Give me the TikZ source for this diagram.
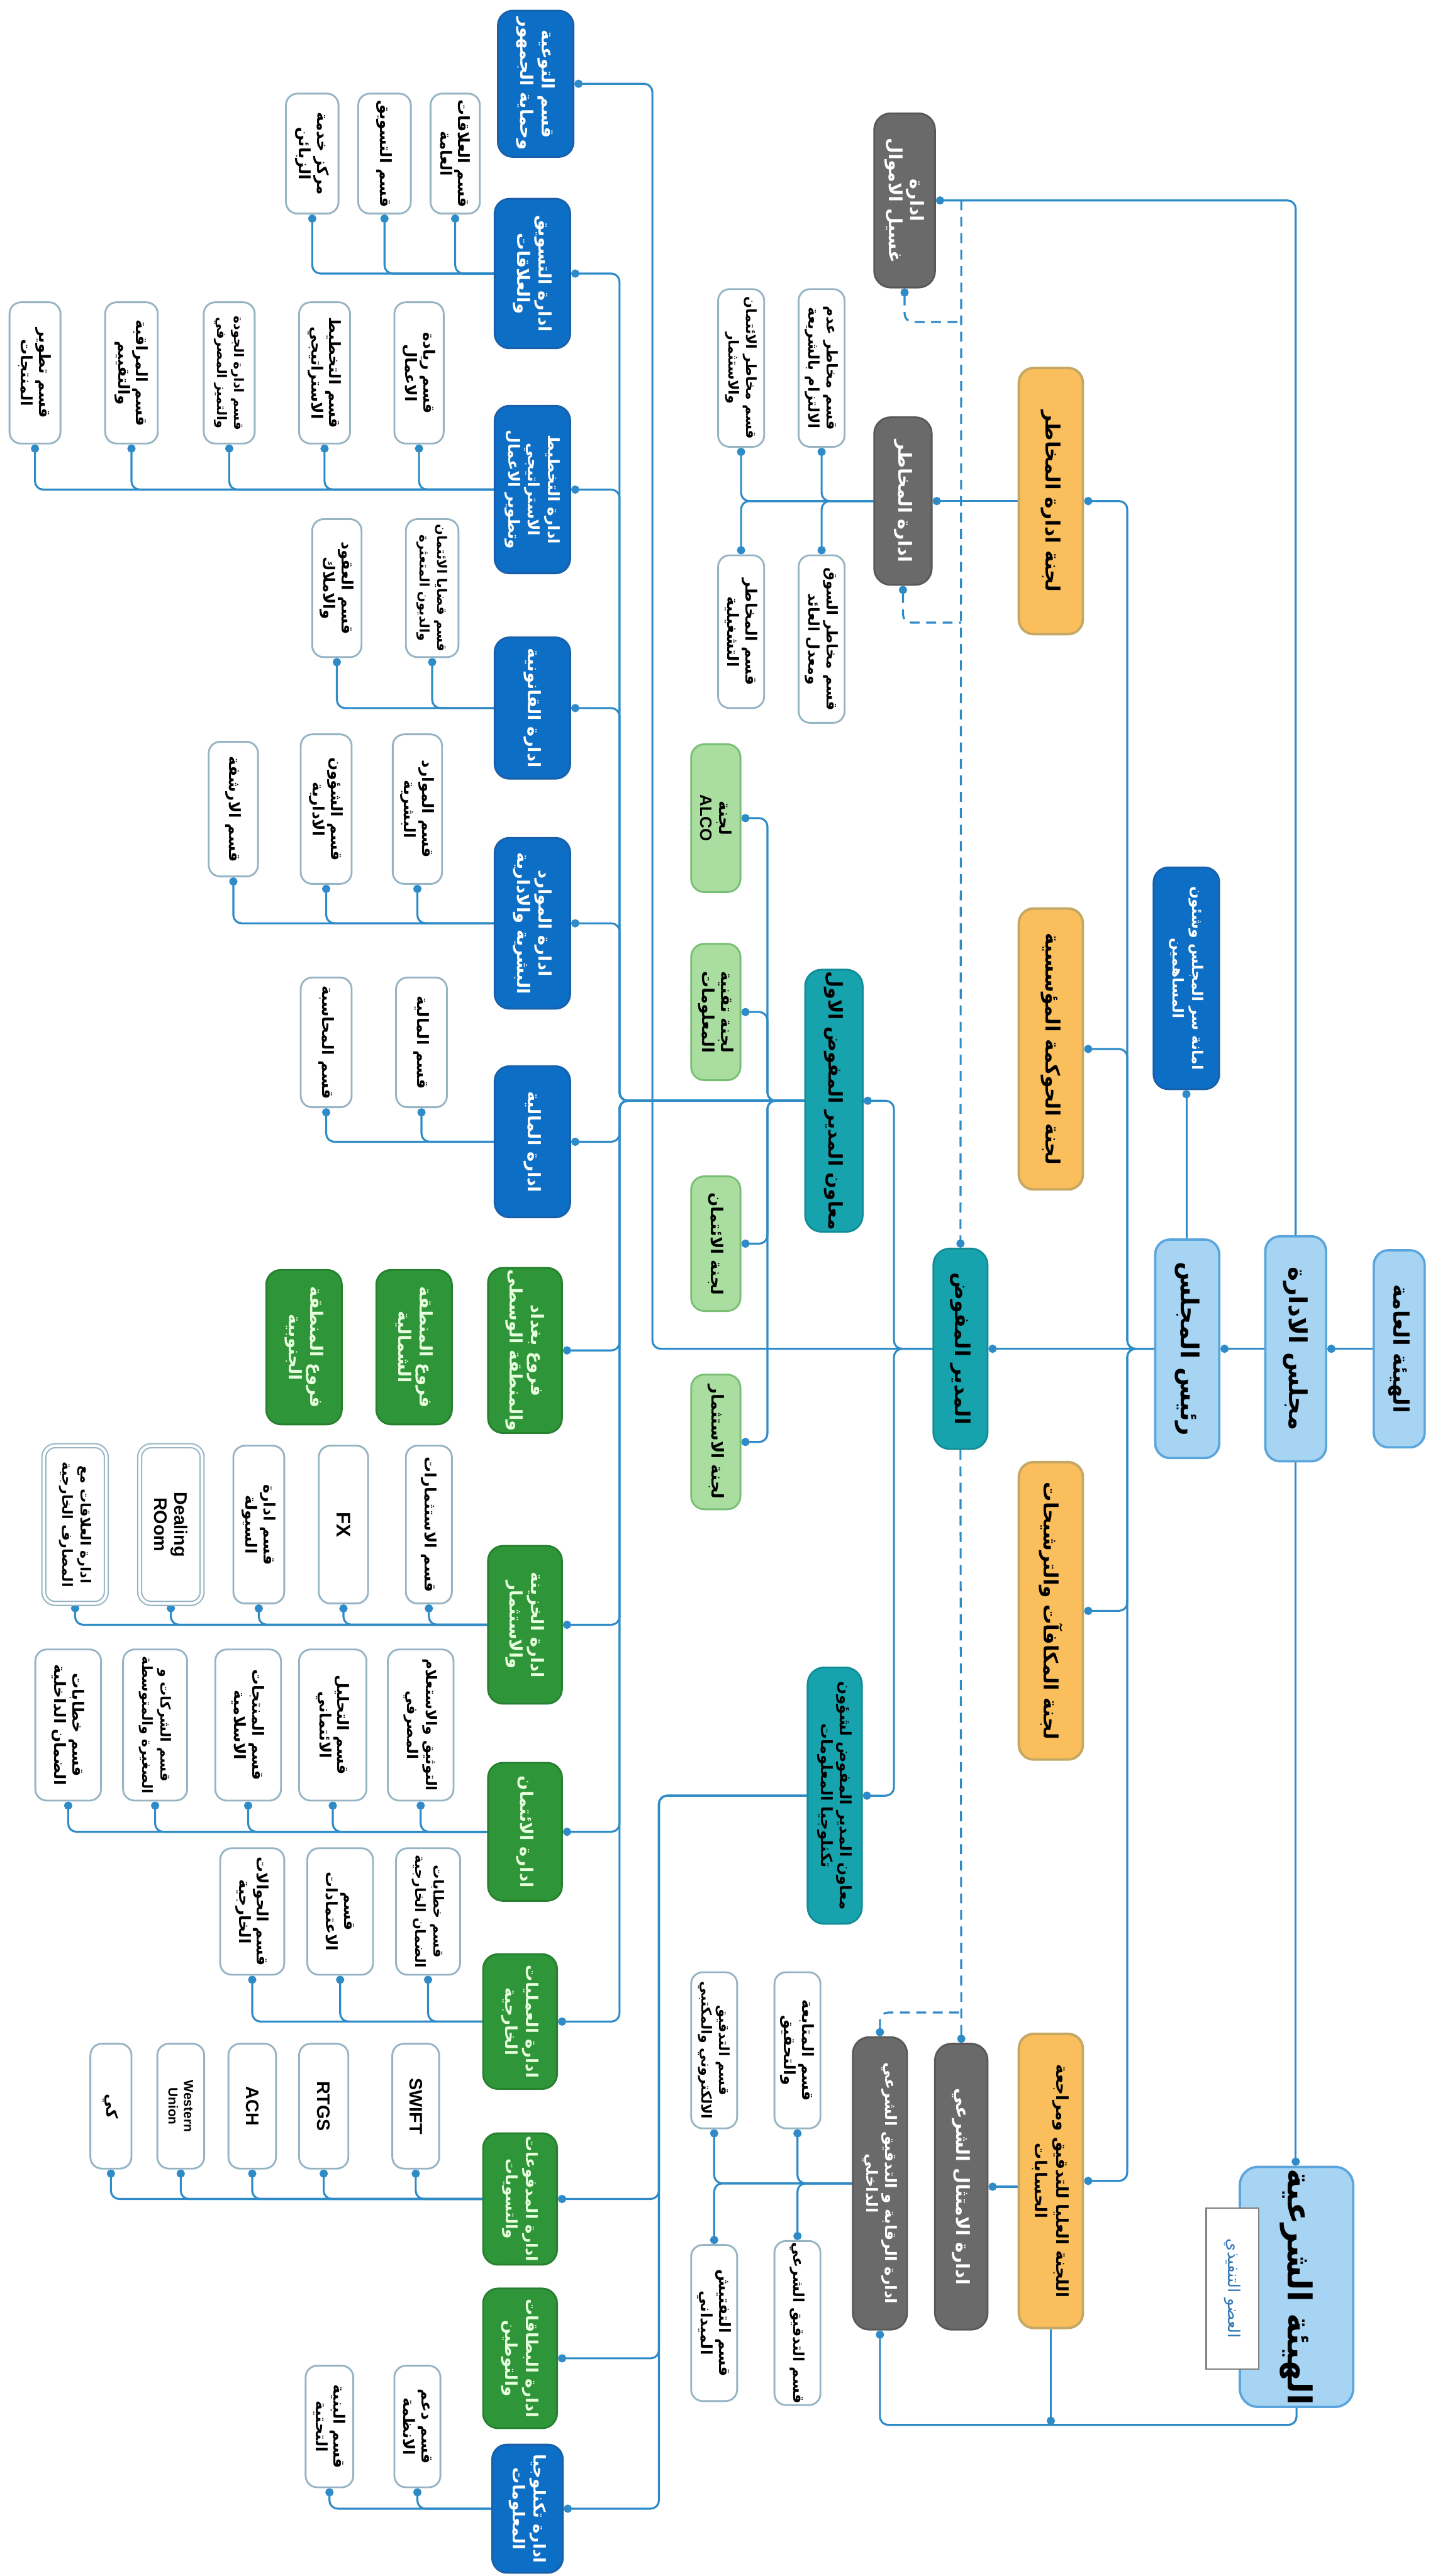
\documentclass[tikz,border=0pt]{standalone}
\usepackage{fontspec}
\setmainfont{Liberation Sans}
\newfontfamily\arabicfont[Script=Arabic]{DejaVu Sans}
\TeXXeTstate=1
\usetikzlibrary{arrows.meta,calc}
\newcommand{\artx}[1]{{\arabicfont\bfseries\beginR #1\endR}}
\newcommand{\artn}[1]{{\arabicfont\beginR #1\endR}}
\newcommand{\latx}[1]{{\bfseries #1}}
\newcommand{\fsz}[2]{\fontsize{#1}{#2}\selectfont}
\definecolor{lineblue}{RGB}{46,139,200}
\definecolor{lbfill}{RGB}{166,212,242}
\definecolor{lbbord}{RGB}{90,165,220}
\definecolor{dbfill}{RGB}{12,110,196}
\definecolor{dbbord}{RGB}{25,95,170}
\definecolor{orfill}{RGB}{250,190,92}
\definecolor{orbord}{RGB}{196,168,100}
\definecolor{gyfill}{RGB}{106,106,106}
\definecolor{gybord}{RGB}{88,88,88}
\definecolor{tlfill}{RGB}{22,163,173}
\definecolor{tlbord}{RGB}{18,140,150}
\definecolor{lgfill}{RGB}{170,221,160}
\definecolor{lgbord}{RGB}{120,190,115}
\definecolor{grfill}{RGB}{46,150,56}
\definecolor{grbord}{RGB}{38,128,48}
\definecolor{grtext}{RGB}{232,255,222}
\definecolor{wbord}{RGB}{150,180,196}
\definecolor{execblue}{RGB}{46,117,182}
\pgfdeclarelayer{bg}
\pgfsetlayers{bg,main}
\tikzset{
  sz/.style 2 args={minimum width=#1, minimum height=#2},
  base/.style={rotate=-90, align=center, inner sep=1pt, line width=1.1pt},
  wbox/.style={base, rounded corners=7pt, draw=wbord, fill=white, text=black, font=\fsz{9.5}{11}},
  dblbox/.style={wbox, double=white, double distance=1.6pt, line width=0.8pt},
  dept/.style={base, rounded corners=9pt, draw=dbbord, fill=dbfill, text=white, font=\fsz{10.5}{13}},
  gdept/.style={base, rounded corners=9pt, draw=grbord, fill=grfill, text=grtext, font=\fsz{10.5}{13}},
  lbox/.style={base, rounded corners=9pt, draw=lbbord, fill=lbfill, text=black, line width=1.4pt},
  obox/.style={base, rounded corners=9pt, draw=orbord, fill=orfill, text=black, line width=1.5pt, font=\fsz{12}{14}},
  gybox/.style={base, rounded corners=10pt, draw=gybord, fill=gyfill, text=white, font=\fsz{11}{13}},
  tbox/.style={base, rounded corners=10pt, draw=tlbord, fill=tlfill, text=black, font=\fsz{11.5}{13}},
  lgbox/.style={base, rounded corners=8pt, draw=lgbord, fill=lgfill, text=black, font=\fsz{10}{11.5}},
  conn/.style={draw=lineblue, line width=1.2pt, rounded corners=5pt},
  dconn/.style={conn, dash pattern=on 6pt off 4pt},
  dot/.style={{Circle[length=5pt,width=5pt]}-},
  enddot/.style={-{Circle[length=5pt,width=5pt]}}
}
\begin{document}
\begin{tikzpicture}[x=1pt,y=-1pt]
\begin{pgfonlayer}{bg}
\fill[white] (0,0) rectangle (875,1568);
\end{pgfonlayer}
\useasboundingbox (0,0) rectangle (875,1568);

% ---------- top level ----------
\node[lbox, sz={120}{31}, font=\fsz{13}{15}] (ga) at (851.5,821) {\artx{الهيئة العامة}};
\node[lbox, sz={137}{37}, font=\fsz{15}{17}] (board) at (788.5,821) {\artx{مجلس الادارة}};
\node[lbox, sz={133}{39}, font=\fsz{15}{17}] (chair) at (722.5,821) {\artx{رئيس المجلس}};
\node[dept, sz={135}{40}, font=\fsz{9}{11.5}] (sec) at (722,595.5) {\artx{امانة سر المجلس وشئون}\\\artx{المساهمين}};
\node[lbox, sz={136}{69}, font=\fsz{20}{22}, rounded corners=11pt] (shariah) at (789,1392) {\artx{الهيئة الشرعية}};
\node[rotate=-90, draw=gray, fill=white, line width=1pt, sz={98}{32}, font=\fsz{10}{11}, text=execblue] (execm) at (750,1393) {\artn{العضو التنفيذي}};

% ---------- board committees ----------
\node[obox, sz={162}{39}] (riskc) at (639.5,305) {\artx{لجنة ادارة المخاطر}};
\node[obox, sz={171}{39}] (govc) at (639.5,638.5) {\artx{لجنة الحوكمة المؤسسية}};
\node[obox, sz={181}{39}] (remc) at (639.5,980.5) {\artx{لجنة المكافآت والترشيحات}};
\node[obox, sz={179}{39}, font=\fsz{10}{13}] (auditc) at (639.5,1327.5) {\artx{اللجنة العليا للتدقيق ومراجعة}\\\artx{الحسابات}};

% ---------- gray departments ----------
\node[gybox, sz={106}{37}] (aml) at (550.5,122) {\artx{ادارة}\\\artx{غسيل الاموال}};
\node[gybox, sz={102}{35}] (riskm) at (549.5,305) {\artx{ادارة المخاطر}};
\node[gybox, sz={174}{32}] (shcomp) at (585,1331) {\artx{ادارة الامتثال الشرعي}};
\node[gybox, sz={178}{33}, font=\fsz{9.5}{11.5}] (intaud) at (535.5,1329) {\artx{ادارة الرقابة و التدقيق الشرعي}\\\artx{الداخلي}};

% ---------- executive ----------
\node[tbox, sz={122}{33}, font=\fsz{12.5}{14}] (ceo) at (584.5,821) {\artx{المدير المفوض}};
\node[tbox, sz={147}{35}] (dep1) at (507.5,670) {\artx{معاون المدير المفوض الاول}};
\node[tbox, sz={156}{33}, font=\fsz{9.5}{11.5}] (dep2) at (508,1093) {\artx{معاون المدير المفوض لشؤون}\\\artx{تكنلوجيا المعلومات}};

% ---------- executive committees ----------
\node[lgbox, sz={90}{30}] (alco) at (435.6,498) {\artx{لجنة}\\\latx{ALCO}};
\node[lgbox, sz={83}{30}] (itc) at (435.6,616) {\artx{لجنة تقنية}\\\artx{المعلومات}};
\node[lgbox, sz={82}{30}] (crc) at (435.6,757) {\artx{لجنة الائتمان}};
\node[lgbox, sz={82}{30}] (invc) at (435.6,877.7) {\artx{لجنة الاستثمار}};

% ---------- risk sections ----------
\node[wbox, sz={96}{28}, font=\fsz{9}{11}] (rk1) at (500,224) {\artx{قسم مخاطر عدم}\\\artx{الالتزام بالشريعة}};
\node[wbox, sz={96}{28}, font=\fsz{8.5}{11}] (rk2) at (451,224) {\artx{قسم مخاطر الائتمان}\\\artx{والاستثمار}};
\node[wbox, sz={102}{28}, font=\fsz{9}{11}] (rk3) at (500,389) {\artx{قسم مخاطر السوق}\\\artx{ومعدل العائد}};
\node[wbox, sz={93}{28}] (rk4) at (451,384.5) {\artx{قسم المخاطر}\\\artx{التشغيلية}};

% ---------- audit sections ----------
\node[wbox, sz={95}{28}] (a1) at (485.3,1248) {\artx{قسم المتابعة}\\\artx{والتحقيق}};
\node[wbox, sz={95}{28}, font=\fsz{8.5}{11}] (a2) at (434.6,1248) {\artx{قسم التدقيق}\\\artx{الالكتروني والمكتبي}};
\node[wbox, sz={95}{28}, font=\fsz{9}{11}] (a3) at (485.3,1414) {\artx{قسم التدقيق الشرعي}};
\node[wbox, sz={95}{28}] (a4) at (434.6,1414) {\artx{قسم التفتيش}\\\artx{الميداني}};

% ---------- blue departments ----------
\node[dept, sz={89}{46}] (aware) at (326,51) {\artx{قسم التوعية}\\\artx{وحماية الجمهور}};
\node[dept, sz={91}{46}] (mkt) at (324,166.5) {\artx{ادارة التسويق}\\\artx{والعلاقات}};
\node[dept, sz={102}{46}, font=\fsz{9.5}{12}] (strat) at (324,298) {\artx{ادارة التخطيط}\\\artx{الاستراتيجي}\\\artx{وتطوير الاعمال}};
\node[dept, sz={86}{46}] (legal) at (324,431) {\artx{ادارة القانونية}};
\node[dept, sz={104}{46}] (hr) at (324,562) {\artx{ادارة الموارد}\\\artx{البشرية والادارية}};
\node[dept, sz={92}{46}] (fin) at (324,695) {\artx{ادارة المالية}};
\node[dept, sz={78}{43}, font=\fsz{10}{12.5}] (itd) at (321,1527) {\artx{ادارة تكنلوجيا}\\\artx{المعلومات}};

% ---------- green departments ----------
\node[gdept, sz={99}{45}] (bgd) at (319.5,822) {\artx{فروع بغداد}\\\artx{والمنطقة الوسطى}};
\node[gdept, sz={94}{46}] (north) at (252,820) {\artx{فروع المنطقة}\\\artx{الشمالية}};
\node[gdept, sz={94}{46}] (south) at (185,820) {\artx{فروع المنطقة}\\\artx{الجنوبية}};
\node[gdept, sz={96}{45}] (trs) at (319.5,989) {\artx{ادارة الخزينة}\\\artx{والاستثمار}};
\node[gdept, sz={84}{45}] (crd) at (319.5,1115) {\artx{ادارة الائتمان}};
\node[gdept, sz={82}{45}, font=\fsz{10}{12.5}] (trd) at (316.5,1230.5) {\artx{ادارة العمليات}\\\artx{الخارجية}};
\node[gdept, sz={80}{45}, font=\fsz{9.5}{12.5}] (pay) at (316.5,1338.5) {\artx{ادارة المدفوعات}\\\artx{والتسويات}};
\node[gdept, sz={85}{45}, font=\fsz{10}{12.5}] (card) at (316.5,1435.5) {\artx{ادارة البطاقات}\\\artx{والتوطين}};

% ---------- marketing sections ----------
\node[wbox, sz={73}{30}] (m1) at (277,93.5) {\artx{قسم العلاقات}\\\artx{العامة}};
\node[wbox, sz={73}{32}] (m2) at (234,93.5) {\artx{قسم التسويق}};
\node[wbox, sz={73}{32}] (m3) at (190,93.5) {\artx{مركز خدمة}\\\artx{الزبائن}};

% ---------- strategy sections ----------
\node[wbox, sz={86}{30}] (s1) at (255,227) {\artx{قسم ريادة}\\\artx{الاعمال}};
\node[wbox, sz={86}{31}] (s2) at (197.5,227) {\artx{قسم التخطيط}\\\artx{الاستراتيجي}};
\node[wbox, sz={86}{31}, font=\fsz{8}{10.5}] (s3) at (139.5,227) {\artx{قسم ادارة الجودة}\\\artx{والتميز المصرفي}};
\node[wbox, sz={86}{32}] (s4) at (80,227) {\artx{قسم المراقبة}\\\artx{والتقييم}};
\node[wbox, sz={86}{31}] (s5) at (21.3,227) {\artx{قسم تطوير}\\\artx{المنتجات}};

% ---------- legal sections ----------
\node[wbox, sz={84}{32}, font=\fsz{8}{10.5}] (l1) at (263,358) {\artx{قسم قضايا الائتمان}\\\artx{والديون المتعثرة}};
\node[wbox, sz={84}{30}] (l2) at (205,358) {\artx{قسم العقود}\\\artx{والاملاك}};

% ---------- HR sections ----------
\node[wbox, sz={91}{30}] (h1) at (254,492.5) {\artx{قسم الموارد}\\\artx{البشرية}};
\node[wbox, sz={91}{31}] (h2) at (198.5,492.5) {\artx{قسم الشؤون}\\\artx{الادارية}};
\node[wbox, sz={82}{30}] (h3) at (142,492.5) {\artx{قسم الارشفة}};

% ---------- finance sections ----------
\node[wbox, sz={79}{31}] (f1) at (256.5,634.5) {\artx{قسم المالية}};
\node[wbox, sz={79}{31}] (f2) at (198.5,634.5) {\artx{قسم المحاسبة}};

% ---------- treasury sections ----------
\node[wbox, sz={96}{28}] (t1) at (261,928) {\artx{قسم الاستثمارات}};
\node[wbox, sz={96}{30}, font=\fsz{12}{13}] (t2) at (209,928) {\latx{FX}};
\node[wbox, sz={96}{31}] (t3) at (157.5,928) {\artx{قسم ادارة}\\\artx{السيولة}};
\node[dblbox, sz={96}{38}, font=\fsz{11}{12.5}] (t4) at (104,928) {\latx{Dealing}\\\latx{ROom}};
\node[dblbox, sz={96}{38}, font=\fsz{8.5}{11}] (t5) at (45.7,928) {\artx{ادارة العلاقات مع}\\\artx{المصارف الخارجية}};

% ---------- credit sections ----------
\node[wbox, sz={92}{40}, font=\fsz{9}{11.5}] (c1) at (256,1050) {\artx{التوثيق والاستعلام}\\\artx{المصرفي}};
\node[wbox, sz={92}{41}] (c2) at (202.5,1050) {\artx{قسم التحليل}\\\artx{الائتماني}};
\node[wbox, sz={92}{40}] (c3) at (151,1050) {\artx{قسم المنتجات}\\\artx{الاسلامية}};
\node[wbox, sz={92}{39}, font=\fsz{8.5}{11}] (c4) at (94.4,1050) {\artx{قسم الشركات و}\\\artx{الصغيرة والمتوسطة}};
\node[wbox, sz={92}{40}] (c5) at (41.5,1050) {\artx{قسم خطابات}\\\artx{الضمان الداخلية}};

% ---------- external operations sections ----------
\node[wbox, sz={77}{39}, font=\fsz{8.5}{11}] (d1) at (260.5,1163.5) {\artx{قسم خطابات}\\\artx{الضمان الخارجية}};
\node[wbox, sz={77}{40}] (d2) at (207,1163.5) {\artx{قسم}\\\artx{الاعتمادات}};
\node[wbox, sz={77}{39}] (d3) at (153.5,1163.5) {\artx{قسم الحوالات}\\\artx{الخارجية}};

% ---------- payment systems ----------
\node[wbox, sz={76}{28.5}, font=\fsz{11}{12}] (p1) at (253,1282) {\latx{SWIFT}};
\node[wbox, sz={76}{30}, font=\fsz{11}{12}] (p2) at (197,1282) {\latx{RTGS}};
\node[wbox, sz={76}{29}, font=\fsz{11}{12}] (p3) at (153.5,1282) {\latx{ACH}};
\node[wbox, sz={76}{28.5}, font=\fsz{8}{9.5}] (p4) at (110,1282) {\latx{Western}\\\latx{Union}};
\node[wbox, sz={76}{25}] (p5) at (67.5,1282) {\artx{كي}};

% ---------- IT sections ----------
\node[wbox, sz={74}{28}] (i1) at (254,1477) {\artx{قسم دعم}\\\artx{الانظمة}};
\node[wbox, sz={74}{29}] (i2) at (200.5,1477) {\artx{قسم البنية}\\\artx{التحتية}};

% ---------- junction coordinates ----------
\coordinate (cj) at (686,821);
\coordinate (cl) at (397,821);
\coordinate (c544) at (544,821);
\coordinate (c467) at (467,670);
\coordinate (c377) at (377,670);
\coordinate (c401) at (401,1093);
\coordinate (dtop) at (585,122);
\coordinate (dj1) at (585,196);
\coordinate (dj2) at (585,379);
\coordinate (dj3) at (585,1225);
\coordinate (bl) at (789,1476);

\begin{pgfonlayer}{bg}
% top level
\draw[conn,dot] (board.north) -- (board.north -| ga.south);
\draw[conn,dot] (chair.north) -- (chair.north -| board.south);
\draw[conn,dot] (sec.east) -- (sec.east |- chair.west);
\draw[conn,dot] (aml.north) -| (board.west);
\draw[conn,enddot] (board.east) -- (board.east |- shariah.west);
% board committees
\foreach \c in {riskc,govc,remc,auditc}
  \draw[conn,dot] (\c.north) -| (cj) -- (cj -| chair.south);
\draw[conn,dot] (ceo.north) -- (ceo.north -| chair.south);
\draw[conn,dot] (riskm.north) -- (riskm.north -| riskc.south);
\draw[conn,dot] (shcomp.north) -- (shcomp.north -| auditc.south);
\draw[conn,enddot] (auditc.east) -- (auditc.east |- bl);
\draw[conn,dot] (intaud.east) |- (bl) -- (shariah.east);
% dashed line
\draw[dconn,enddot] (dtop) -- (ceo.west);
\draw[dconn,enddot] (ceo.east) -- (shcomp.west);
\draw[dconn,dot] (aml.east) |- (dj1);
\draw[dconn,dot] (riskm.east) |- (dj2);
\draw[dconn,dot] (intaud.west) |- (dj3);
% risk sections
\draw[conn,dot] (rk1.east) |- (riskm.south);
\draw[conn,dot] (rk2.east) |- (riskm.south);
\draw[conn,dot] (rk3.west) |- (riskm.south);
\draw[conn,dot] (rk4.west) |- (riskm.south);
% audit sections
\draw[conn,dot] (a1.east) |- (intaud.south);
\draw[conn,dot] (a2.east) |- (intaud.south);
\draw[conn,dot] (a3.west) |- (intaud.south);
\draw[conn,dot] (a4.west) |- (intaud.south);
% executive
\draw[conn,dot] (aware.north) -| (cl) -- (ceo.south);
\draw[conn,dot] (dep1.north) -| (c544) -- (ceo.south);
\draw[conn,dot] (dep2.north) -| (c544) -- (ceo.south);
\foreach \c in {alco,itc,crc,invc}
  \draw[conn,dot] (\c.north) -| (c467) -- (dep1.south);
\foreach \c in {mkt,strat,legal,hr,fin,bgd,trs,crd,trd}
  \draw[conn,dot] (\c.north) -| (c377) -- (dep1.south);
\foreach \c in {pay,card,itd}
  \draw[conn,dot] (\c.north) -| (c401) -- (dep2.south);
% sections
\foreach \c in {m1,m2,m3} \draw[conn,dot] (\c.east) |- (mkt.south);
\foreach \c in {s1,s2,s3,s4,s5} \draw[conn,dot] (\c.east) |- (strat.south);
\foreach \c in {l1,l2} \draw[conn,dot] (\c.east) |- (legal.south);
\foreach \c in {h1,h2,h3} \draw[conn,dot] (\c.east) |- (hr.south);
\foreach \c in {f1,f2} \draw[conn,dot] (\c.east) |- (fin.south);
\foreach \c in {t1,t2,t3,t4,t5} \draw[conn,dot] (\c.east) |- (trs.south);
\foreach \c in {c1,c2,c3,c4,c5} \draw[conn,dot] (\c.east) |- (crd.south);
\foreach \c in {d1,d2,d3} \draw[conn,dot] (\c.east) |- (trd.south);
\foreach \c in {p1,p2,p3,p4,p5} \draw[conn,dot] (\c.east) |- (pay.south);
\foreach \c in {i1,i2} \draw[conn,dot] (\c.east) |- (itd.south);
\end{pgfonlayer}
\end{tikzpicture}
\end{document}
